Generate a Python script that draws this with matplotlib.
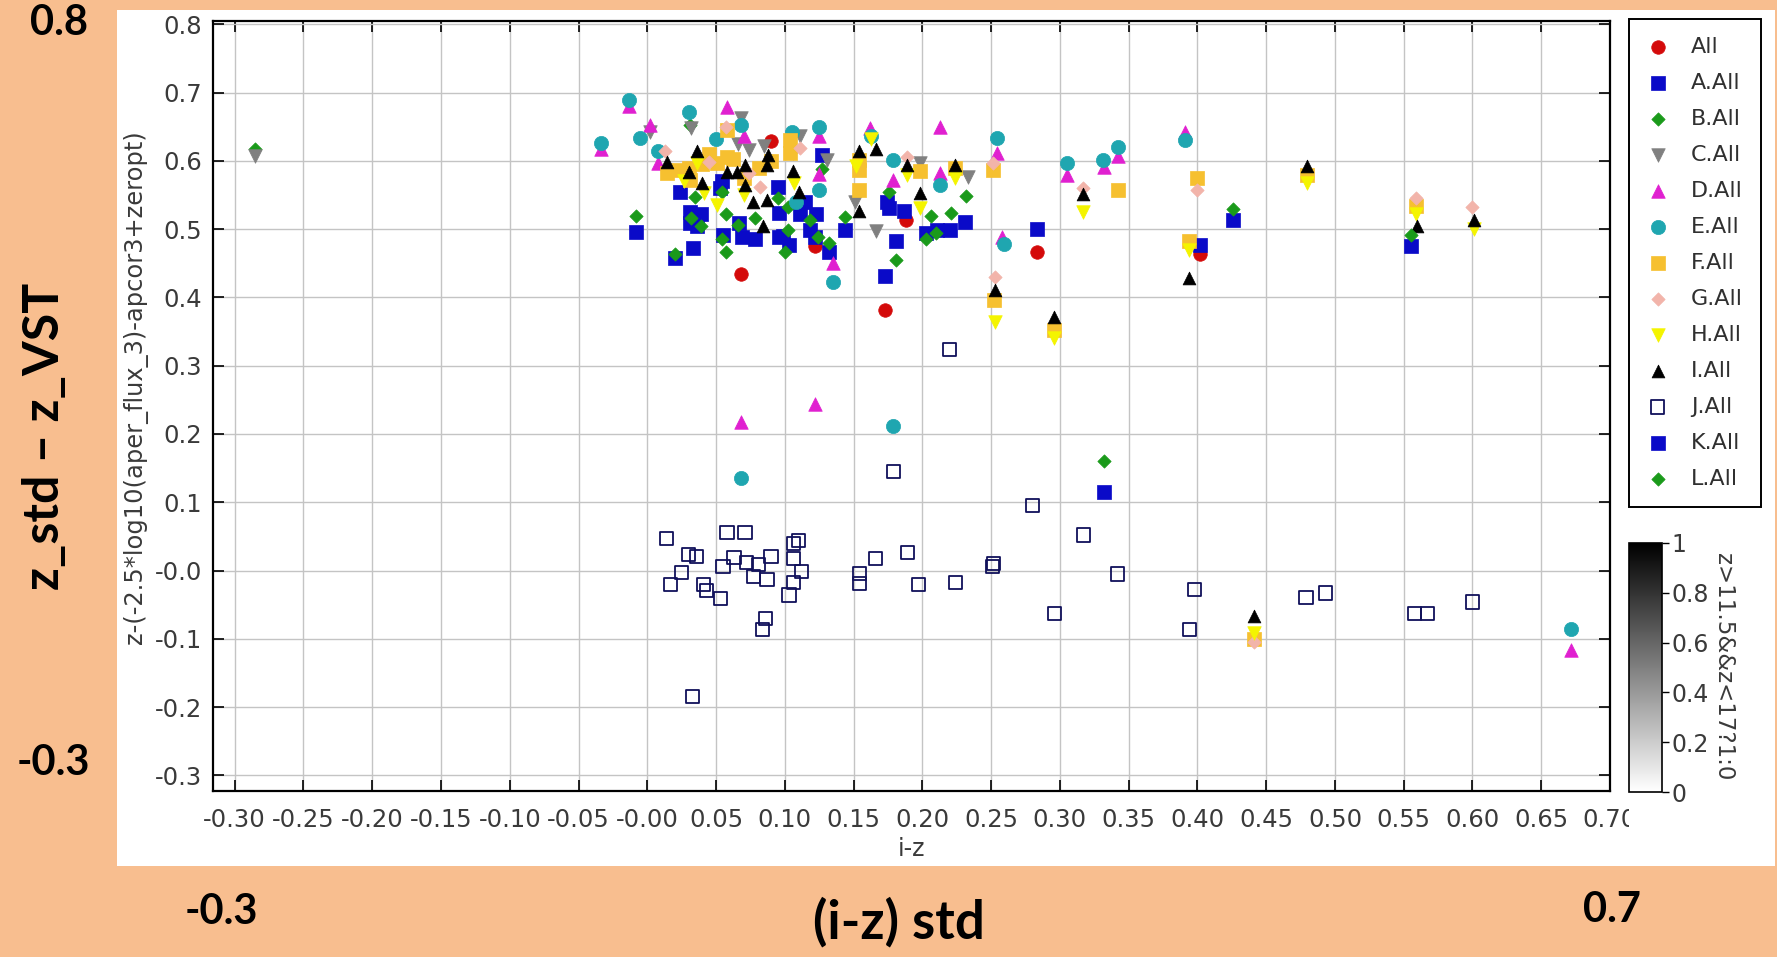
import matplotlib
matplotlib.use("Agg")
import matplotlib.pyplot as plt
import numpy as np
from matplotlib.patches import Rectangle
from matplotlib.colors import Normalize
from matplotlib.cm import ScalarMappable
from matplotlib.transforms import Bbox, TransformedBbox

# ---- data: (i-z, z offset) per source group ----
all_pts = [(0.090, 0.629), (0.068, 0.434), (0.122, 0.475), (0.173, 0.381), (0.188, 0.514),
           (0.283, 0.466), (0.402, 0.464)]
a_pts = [(-0.008, 0.496), (0.020, 0.458), (0.033, 0.473), (0.024, 0.554), (0.031, 0.525),
         (0.039, 0.523), (0.031, 0.509), (0.036, 0.505), (0.054, 0.570), (0.053, 0.560),
         (0.055, 0.492), (0.067, 0.509), (0.069, 0.488), (0.078, 0.485), (0.096, 0.488),
         (0.095, 0.562), (0.096, 0.524), (0.099, 0.490), (0.103, 0.477), (0.115, 0.540),
         (0.111, 0.523), (0.123, 0.523), (0.118, 0.499), (0.122, 0.489), (0.132, 0.467),
         (0.127, 0.609), (0.144, 0.499), (0.174, 0.540), (0.176, 0.531), (0.187, 0.526),
         (0.181, 0.482), (0.173, 0.431), (0.203, 0.494), (0.211, 0.499), (0.220, 0.499),
         (0.231, 0.511), (0.283, 0.501), (0.402, 0.477), (0.426, 0.514), (0.555, 0.475)]
b_pts = [(-0.008, 0.520), (0.020, 0.464), (0.035, 0.547), (0.032, 0.516), (0.039, 0.504),
         (0.054, 0.554), (0.057, 0.523), (0.054, 0.485), (0.057, 0.467), (0.066, 0.506),
         (0.078, 0.516), (0.095, 0.545), (0.102, 0.533), (0.102, 0.499), (0.100, 0.467),
         (0.118, 0.514), (0.124, 0.489), (0.132, 0.480), (0.127, 0.588), (0.144, 0.518),
         (0.176, 0.555), (0.181, 0.455), (0.206, 0.520), (0.203, 0.485), (0.221, 0.524),
         (0.210, 0.494), (0.232, 0.548), (0.031, 0.653), (-0.285, 0.617)]
c_pts = [(-0.285, 0.607), (0.002, 0.643), (0.032, 0.648), (0.068, 0.663), (0.074, 0.616),
         (0.066, 0.625), (0.085, 0.622), (0.106, 0.611), (0.111, 0.636), (0.131, 0.602),
         (0.151, 0.540), (0.166, 0.498), (0.198, 0.597), (0.233, 0.577)]
d_pts = [(-0.034, 0.617), (-0.013, 0.680), (0.002, 0.652), (0.008, 0.597), (0.058, 0.679),
         (0.070, 0.636), (0.125, 0.636), (0.125, 0.581), (0.162, 0.648), (0.179, 0.572),
         (0.213, 0.650), (0.213, 0.582), (0.254, 0.611), (0.258, 0.488), (0.305, 0.580),
         (0.332, 0.591), (0.342, 0.607), (0.391, 0.642), (0.135, 0.450), (0.122, 0.244),
         (0.068, 0.217), (0.672, -0.117)]
e_pts = [(-0.034, 0.626), (-0.013, 0.690), (-0.005, 0.633), (0.008, 0.614), (0.030, 0.672),
         (0.050, 0.632), (0.068, 0.653), (0.105, 0.643), (0.125, 0.650), (0.163, 0.636),
         (0.179, 0.602), (0.213, 0.565), (0.125, 0.558), (0.108, 0.540), (0.254, 0.633),
         (0.305, 0.597), (0.331, 0.602), (0.342, 0.621), (0.391, 0.631), (0.135, 0.423),
         (0.259, 0.479), (0.179, 0.211), (0.068, 0.135), (0.672, -0.085)]
f_pts = [(0.022, 0.587), (0.031, 0.572), (0.051, 0.597), (0.058, 0.646), (0.058, 0.606),
         (0.081, 0.589), (0.104, 0.631), (0.104, 0.611), (0.154, 0.602), (0.154, 0.587),
         (0.154, 0.558), (0.198, 0.585), (0.224, 0.589), (0.251, 0.587), (0.342, 0.558),
         (0.252, 0.396), (0.296, 0.352), (0.400, 0.575), (0.394, 0.482), (0.480, 0.579),
         (0.559, 0.534), (0.441, -0.100), (0.040, 0.595), (0.030, 0.590), (0.045, 0.610),
         (0.062, 0.603), (0.070, 0.575), (0.090, 0.600), (0.014, 0.582)]
g_pts = [(0.013, 0.614), (0.057, 0.650), (0.082, 0.562), (0.074, 0.582), (0.111, 0.619),
         (0.189, 0.606), (0.251, 0.597), (0.317, 0.560), (0.253, 0.430), (0.400, 0.557),
         (0.559, 0.545), (0.600, 0.532), (0.441, -0.105), (0.045, 0.598)]
h_pts = [(0.036, 0.597), (0.041, 0.553), (0.070, 0.550), (0.152, 0.592), (0.198, 0.531),
         (0.224, 0.575), (0.317, 0.525), (0.253, 0.364), (0.296, 0.340), (0.027, 0.570),
         (0.107, 0.567), (0.189, 0.580), (0.163, 0.632), (0.394, 0.470), (0.480, 0.567),
         (0.559, 0.523), (0.601, 0.500), (0.441, -0.092), (0.051, 0.535)]
i_pts = [(0.036, 0.614), (0.014, 0.598), (0.030, 0.584), (0.040, 0.567), (0.058, 0.584),
         (0.065, 0.584), (0.071, 0.594), (0.071, 0.565), (0.088, 0.609), (0.087, 0.594),
         (0.106, 0.585), (0.110, 0.555), (0.077, 0.540), (0.087, 0.543), (0.084, 0.505),
         (0.154, 0.614), (0.166, 0.618), (0.154, 0.527), (0.189, 0.594), (0.198, 0.553),
         (0.224, 0.594), (0.253, 0.411), (0.296, 0.372), (0.317, 0.551), (0.394, 0.429),
         (0.480, 0.593), (0.560, 0.504), (0.601, 0.513), (0.441, -0.066)]
j_pts = [(0.014, 0.047), (0.030, 0.024), (0.036, 0.020), (0.025, -0.003), (0.017, -0.021),
         (0.041, -0.020), (0.043, -0.029), (0.053, -0.041), (0.055, 0.006), (0.058, 0.056),
         (0.071, 0.056), (0.063, 0.019), (0.072, 0.012), (0.081, 0.009), (0.077, -0.009),
         (0.087, -0.013), (0.090, 0.020), (0.086, -0.070), (0.084, -0.086), (0.106, 0.040),
         (0.110, 0.044), (0.106, 0.018), (0.112, -0.001), (0.106, -0.018), (0.103, -0.036),
         (0.154, -0.004), (0.154, -0.019), (0.166, 0.018), (0.189, 0.026), (0.197, -0.021),
         (0.224, -0.017), (0.252, 0.010), (0.251, 0.006), (0.033, -0.185), (0.280, 0.095),
         (0.220, 0.324), (0.179, 0.145), (0.317, 0.052), (0.296, -0.063), (0.342, -0.005),
         (0.398, -0.028), (0.394, -0.086), (0.479, -0.040), (0.493, -0.033), (0.558, -0.063),
         (0.567, -0.063), (0.600, -0.046)]
k_pts = [(0.332, 0.115)]
l_pts = [(0.332, 0.160), (0.555, 0.492), (0.426, 0.530)]

series_names = ["All", "A.All", "B.All", "C.All", "D.All", "E.All", "F.All",
                "G.All", "H.All", "I.All", "J.All", "K.All", "L.All"]
series_pts = [all_pts, a_pts, b_pts, c_pts, d_pts, e_pts, f_pts,
              g_pts, h_pts, i_pts, j_pts, k_pts, l_pts]

x_ticks = [-0.30, -0.25, -0.20, -0.15, -0.10, -0.05, 0.00, 0.05, 0.10, 0.15, 0.20,
           0.25, 0.30, 0.35, 0.40, 0.45, 0.50, 0.55, 0.60, 0.65, 0.70]
x_tick_labels = ["-0.30", "-0.25", "-0.20", "-0.15", "-0.10", "-0.05", "-0.00", "0.05",
                 "0.10", "0.15", "0.20", "0.25", "0.30", "0.35", "0.40", "0.45", "0.50",
                 "0.55", "0.60", "0.65", "0.70"]
y_ticks = [0.8, 0.7, 0.6, 0.5, 0.4, 0.3, 0.2, 0.1, 0.0, -0.1, -0.2, -0.3]
y_tick_labels = ["0.8", "0.7", "0.6", "0.5", "0.4", "0.3", "0.2", "0.1", "-0.0",
                 "-0.1", "-0.2", "-0.3"]
cbar_ticks = [0, 0.2, 0.4, 0.6, 0.8, 1]
cbar_tick_labels = ["0", "0.2", "0.4", "0.6", "0.8", "1"]

# marker style per group: (marker, face, edge, size)
styles = [
    ("o", "#d40a0a", "#d40a0a", 95),
    ("s", "#0a0ac8", "#0a0ac8", 95),
    ("D", "#1a9a1a", "#1a9a1a", 46),
    ("v", "#808080", "#808080", 95),
    ("^", "#e020d0", "#e020d0", 95),
    ("o", "#1fa6b0", "#1fa6b0", 105),
    ("s", "#f6c030", "#f6c030", 95),
    ("D", "#f2b4aa", "#f2b4aa", 46),
    ("v", "#f4f400", "#f4f400", 95),
    ("^", "#000000", "#000000", 85),
    ("s", "none", "#10105a", 90),
    ("s", "#0a0ac8", "#0a0ac8", 95),
    ("D", "#1a9a1a", "#1a9a1a", 46),
]

plt.rcParams["axes.unicode_minus"] = False
plt.rcParams["font.family"] = "DejaVu Sans"

W, H = 1777, 957
fig = plt.figure(figsize=(W / 100, H / 100), dpi=100, facecolor="#F8BE8F")
fig.patches.append(Rectangle((117 / W, 1 - 866 / H), (1775 - 117) / W, (866 - 10) / H,
                             transform=fig.transFigure, facecolor="white",
                             edgecolor="none", zorder=-10))

ax = fig.add_axes([213 / W, 1 - 791 / H, (1610 - 213) / W, (791 - 21) / H])
ax.set_xlim(-0.3158, 0.700)
ax.set_ylim(-0.323, 0.805)

handles = []
for k, (name, pts, (mk, fc, ec, sz)) in enumerate(zip(series_names, series_pts, styles)):
    arr = np.asarray(pts)
    lw = 1.3 if fc == "none" else 0.5
    h = ax.scatter(arr[:, 0], arr[:, 1], marker=mk, s=sz, facecolors=fc,
                   edgecolors=ec, linewidths=lw, zorder=3 + k, label=name)
    handles.append(h)

ax.set_xticks(x_ticks)
ax.set_xticklabels(x_tick_labels)
ax.set_yticks(y_ticks)
ax.set_yticklabels(y_tick_labels)
ax.tick_params(direction="in", top=True, right=True, length=8, width=1.2,
               labelsize=17.5, labelcolor="#3a3a3a")
ax.tick_params(axis="x", pad=12)
ax.tick_params(axis="y", pad=8)
ax.grid(True, color="#c4c4c4", linewidth=1.0)
ax.set_axisbelow(True)
for sp in ax.spines.values():
    sp.set_linewidth(1.6)

ax.set_xlabel("i-z", fontsize=17, color="#3a3a3a", labelpad=4)
fig.text(136 / W, 1 - 387 / H, "z-(-2.5*log10(aper_flux_3)-apcor3+zeropt)",
         rotation=90, ha="center", va="center", fontsize=17.4, color="#3a3a3a")

# last x tick label is cut by the side panel
clip = TransformedBbox(Bbox([[0, 0], [1629 / W, 1]]), fig.transFigure)
lab = ax.get_xticklabels()[-1]
lab.set_clip_box(clip)
lab.set_clip_on(True)

leg = fig.legend(handles, series_names, loc="upper left",
                 bbox_to_anchor=(1629 / W, 1 - 19 / H), bbox_transform=fig.transFigure,
                 borderaxespad=0, frameon=True, fancybox=False, framealpha=1,
                 edgecolor="black", fontsize=16, scatterpoints=1, markerscale=1.0,
                 handlelength=1.0, handletextpad=1.0, borderpad=0.8, labelspacing=0.72)
leg.get_frame().set_linewidth(1.4)
for t in leg.get_texts():
    t.set_color("#303030")

cax = fig.add_axes([1629 / W, 1 - 792 / H, 33 / W, 249 / H])
cb = fig.colorbar(ScalarMappable(Normalize(0, 1), cmap="gray_r"), cax=cax)
cb.set_ticks(cbar_ticks)
cb.set_ticklabels(cbar_tick_labels)
cax.tick_params(labelsize=17, labelcolor="#3a3a3a", length=5, width=1.0, pad=2)
cb.outline.set_linewidth(1.2)
fig.text(1723 / W, 1 - 667 / H, "z>11.5&&z<17?1:0", rotation=270,
         ha="center", va="center", fontsize=16.5, color="#3a3a3a")

# slide annotations
big = dict(family="Lato", fontweight="bold", color="black")
fig.text(59 / W, 1 - 23 / H, "0.8", ha="center", va="center", fontsize=30, **big)
fig.text(53 / W, 1 - 763 / H, "-0.3", ha="center", va="center", fontsize=30, **big)
fig.text(45 / W, 1 - 436 / H, "z_std \u2013 z_VST", rotation=90, ha="center",
         va="center", fontsize=36, **big)
fig.text(221 / W, 1 - 912 / H, "-0.3", ha="center", va="center", fontsize=30, **big)
fig.text(899 / W, 1 - 922 / H, "(i-z) std", ha="center", va="center", fontsize=38, **big)
fig.text(1612 / W, 1 - 910 / H, "0.7", ha="center", va="center", fontsize=30, **big)

fig.savefig("out.png", dpi=100, facecolor=fig.get_facecolor())
